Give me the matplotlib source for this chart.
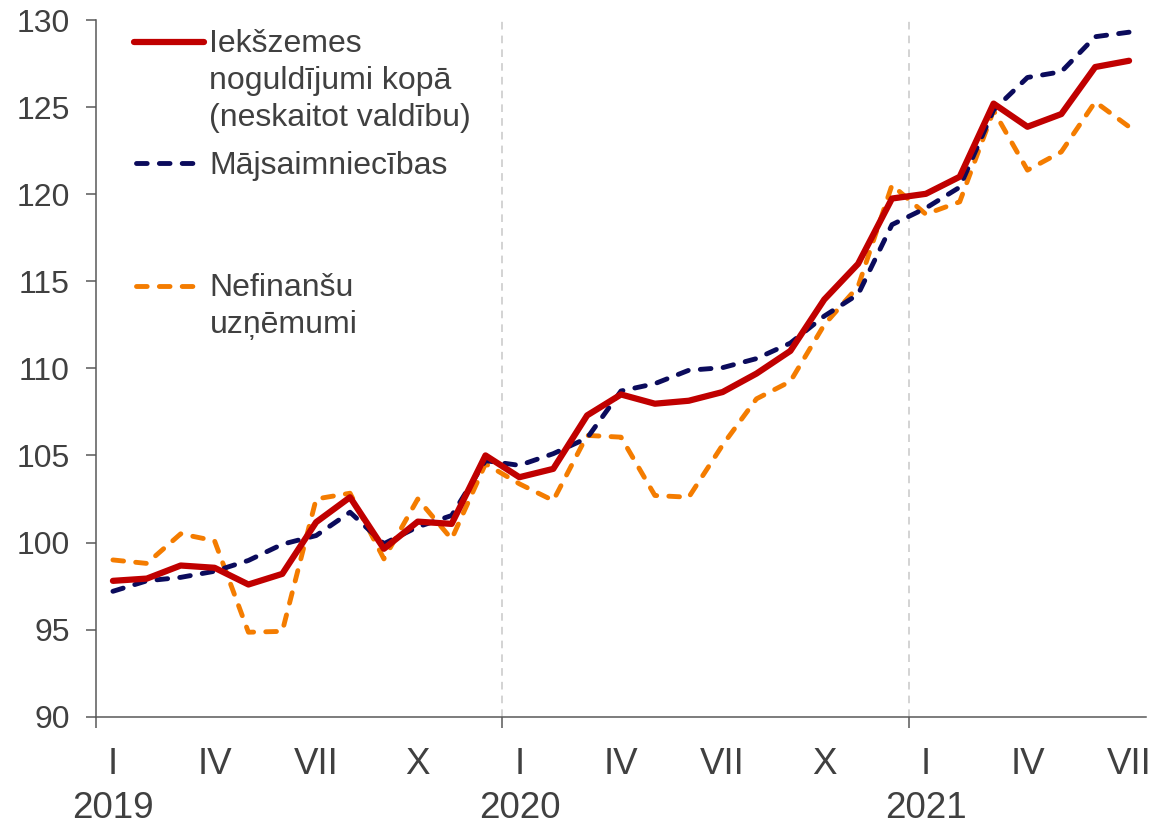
import matplotlib
matplotlib.use("Agg")
import matplotlib.pyplot as plt
from matplotlib.lines import Line2D

plt.rcParams['font.family'] = ['Liberation Sans', 'DejaVu Sans']

# ---- data (monthly, Jan 2019 - Jul 2021) ----
months = ["I", "II", "III", "IV", "V", "VI", "VII", "VIII", "IX", "X", "XI", "XII"]
years = ["2019", "2020", "2021"]
total = [97.8, 97.93, 98.68, 98.55, 97.59, 98.2, 101.17, 102.6, 99.64, 101.2, 101.07, 105.0,
         103.75, 104.23, 107.3, 108.5, 107.97, 108.14, 108.64, 109.7, 111.0, 113.95, 116.0, 119.75,
         120.02, 121.0, 125.2, 123.87, 124.6, 127.3, 127.66]
households = [97.2, 97.8, 98.0, 98.35, 98.97, 99.9, 100.4, 101.74, 99.93, 100.9, 101.55, 104.7,
              104.43, 105.1, 106.0, 108.7, 109.12, 109.89, 110.04, 110.56, 111.45, 113.0, 114.25, 118.25,
              119.2, 120.4, 124.83, 126.7, 127.03, 129.04, 129.3]
nonfin = [99.0, 98.8, 100.5, 100.1, 94.85, 94.9, 102.5, 102.83, 99.06, 102.5, 100.2, 104.52,
          103.37, 102.41, 106.15, 106.05, 102.7, 102.6, 105.6, 108.25, 109.25, 112.5, 114.7, 120.52,
          118.85, 119.56, 124.8, 121.38, 122.43, 125.3, 123.87]
labels = ["Iekšzemes\nnoguldījumi kopā\n(neskaitot valdību)", "Mājsaimniecības", "Nefinanšu\nuzņēmumi"]
yticks = [90, 95, 100, 105, 110, 115, 120, 125, 130]

c_red = "#C00000"
c_navy = "#0B0B5C"
c_orange = "#F47C00"
c_text = "#404040"
c_axis = "#595959"

W, H = 1155, 824
fig = plt.figure(figsize=(W / 100, H / 100), dpi=100)
ax_l, ax_r, ax_t, ax_b = 96, 1146, 20, 716.7
ax = fig.add_axes([ax_l / W, 1 - ax_b / H, (ax_r - ax_l) / W, (ax_b - ax_t) / H])

n = len(total)
x = list(range(n))
dash = (0, (2.2, 2.5))
lw_d = 3.5
lw_r = 4.5

ax.plot(x, nonfin, color=c_orange, lw=lw_d, linestyle=dash, dash_capstyle='round', zorder=3)
ax.plot(x, households, color=c_navy, lw=lw_d, linestyle=dash, dash_capstyle='round', zorder=4)
ax.plot(x, total, color=c_red, lw=lw_r, solid_capstyle='round', solid_joinstyle='round', zorder=5)

# year separators
for b in (11.5, 23.5):
    ax.axvline(b, color="#C8C8C8", lw=1.1, linestyle=(0, (5, 4)), zorder=1)

ax.set_xlim(-0.5, n - 0.5)
ax.set_ylim(90, 130)
ax.set_yticks(yticks)
ax.set_yticklabels([str(v) for v in yticks])
ax.tick_params(axis='y', direction='out', length=7, width=1.1, color=c_axis,
               labelsize=23, labelcolor=c_text, pad=12)
ax.set_xticks([-0.5, 11.5, 23.5])
ax.set_xticklabels([])
ax.tick_params(axis='x', direction='out', length=8, width=1.1, color=c_axis)

for s in ("top", "right"):
    ax.spines[s].set_visible(False)
for s in ("left", "bottom"):
    ax.spines[s].set_color(c_axis)
    ax.spines[s].set_linewidth(1.1)

# month and year labels
tr = ax.get_xaxis_transform()
ym = (ax_b - 774.5) / (ax_b - ax_t)
yy = (ax_b - 817.5) / (ax_b - ax_t)
for i in range(0, n, 3):
    ax.text(i, ym, months[i % 12], transform=tr, ha='center', va='baseline',
            fontsize=26.5, color=c_text)
for k, yr in enumerate(years):
    ax.text(12 * k, yy, yr, transform=tr, ha='center', va='baseline',
            fontsize=26.5, color=c_text)

# manual legend (handle aligned with first text line)
def fx(px):
    return px / W

def fy(py):
    return 1 - py / H

entries = [
    (labels[0], dict(color=c_red, lw=lw_r, solid_capstyle='round'), 41.7, 134, 204),
    (labels[1], dict(color=c_navy, lw=lw_d, linestyle=dash, dash_capstyle='round'), 163.3, 136, 198),
    (labels[2], dict(color=c_orange, lw=lw_d, linestyle=dash, dash_capstyle='round'), 286.0, 136, 198),
]
for lab, style, ly, x0, x1 in entries:
    fig.add_artist(Line2D([fx(x0), fx(x1)], [fy(ly), fy(ly)], transform=fig.transFigure, **style))
    for j, line in enumerate(lab.split("\n")):
        fig.text(fx(209.5), fy(ly + 10.5 + j * 37.0), line, ha='left', va='baseline',
                 fontsize=23, color=c_text)

fig.savefig("out.png", dpi=100, facecolor="white")
